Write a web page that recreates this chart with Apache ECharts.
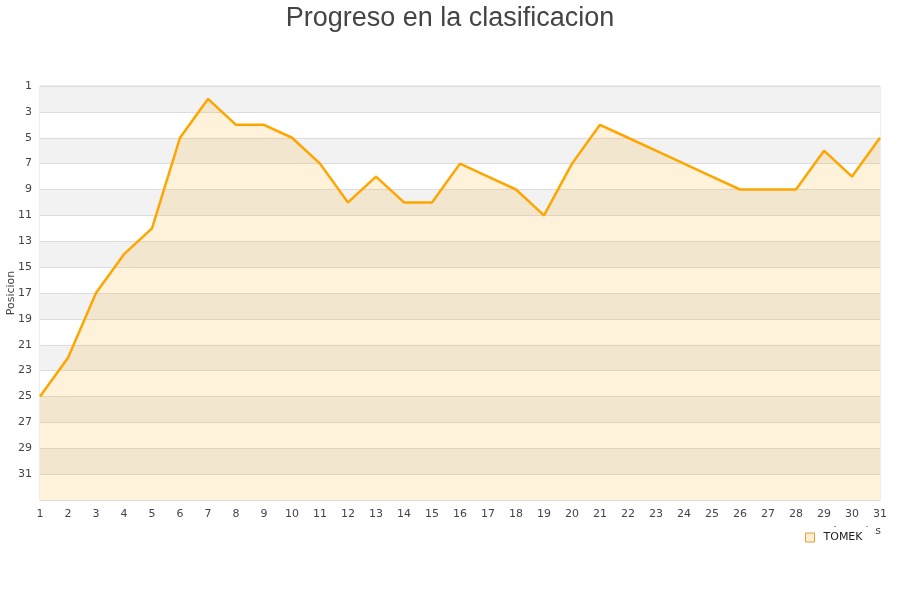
<!DOCTYPE html>
<html>
<head>
<meta charset="utf-8">
<script src="https://cdn.jsdelivr.net/npm/echarts@6/dist/echarts.min.js"></script>
<style>html,body{margin:0;padding:0;background:#fff}#c{width:900px;height:600px}</style>
</head>
<body>
<div id="c"></div>
<script>
var jornadas = ['1','2','3','4','5','6','7','8','9','10','11','12','13','14','15','16','17','18','19','20','21','22','23','24','25','26','27','28','29','30','31'];
var posiciones = [25,22,17,14,12,5,2,4,4,5,7,10,8,10,10,7,8,9,11,7,4,5,6,7,8,9,9,9,6,8,5];
var serieNombre = 'TOMEK';
var titulo = 'Progreso en la clasificacion';

var chart = echarts.init(document.getElementById('c'));
chart.setOption({
  animation: false,
  backgroundColor: '#fff',
  title: {
    text: titulo, left: 'center', top: 0,
    textStyle: {fontFamily: 'Liberation Sans, Arial, sans-serif', fontSize: 27, fontWeight: 'normal', color: '#444'}
  },
  graphic: [{
    type: 'text', right: 19, top: 526, z: 1,
    style: {text: 'Jornadas', font: '11px "DejaVu Sans"', fill: '#444'}
  }],
  legend: {
    data: [serieNombre], left: 796, top: 527, z: 10,
    backgroundColor: '#fff', padding: [5, 12, 4, 9],
    icon: 'rect', itemWidth: 9, itemHeight: 9, itemGap: 5,
    textStyle: {fontFamily: 'DejaVu Sans', fontSize: 11, color: '#222', padding: [0, 0, 0, 4]},
    itemStyle: {color: '#fdefcf', borderColor: '#e0a040', borderWidth: 1}
  },
  grid: {left: 40, right: 20, top: 86, bottom: 100, outerBoundsMode: 'none', containLabel: false, show: true, borderColor: '#ddd', borderWidth: 1, backgroundColor: 'transparent'},
  xAxis: {
    type: 'category', data: jornadas, boundaryGap: false,
    axisLine: {show: true, lineStyle: {color: '#ddd'}},
    axisTick: {show: false},
    axisLabel: {fontFamily: 'DejaVu Sans', fontSize: 11, color: '#444', margin: 9, interval: 0},
    splitLine: {show: false}
  },
  yAxis: {
    type: 'value', inverse: true, min: 1, max: 33, interval: 2,
    name: 'Posicion', nameLocation: 'middle', nameGap: 23, nameMoveOverlap: false,
    nameTextStyle: {fontFamily: 'DejaVu Sans', fontSize: 11, color: '#444'},
    axisLine: {show: false}, axisTick: {show: false},
    axisLabel: {fontFamily: 'DejaVu Sans', fontSize: 11, color: '#444', margin: 8, showMaxLabel: false},
    splitLine: {show: true, lineStyle: {color: '#ddd', width: 1}},
    splitArea: {show: true, areaStyle: {color: ['#f2f2f2', '#ffffff']}}
  },
  series: [{
    name: serieNombre, type: 'line', data: posiciones,
    showSymbol: false, symbol: 'none',
    lineStyle: {color: '#ffa500', width: 2.5},
    itemStyle: {color: '#ffa500'},
    areaStyle: {color: 'rgba(255,165,0,0.2)', origin: 'end'}
  }]
});
</script>
</body>
</html>
